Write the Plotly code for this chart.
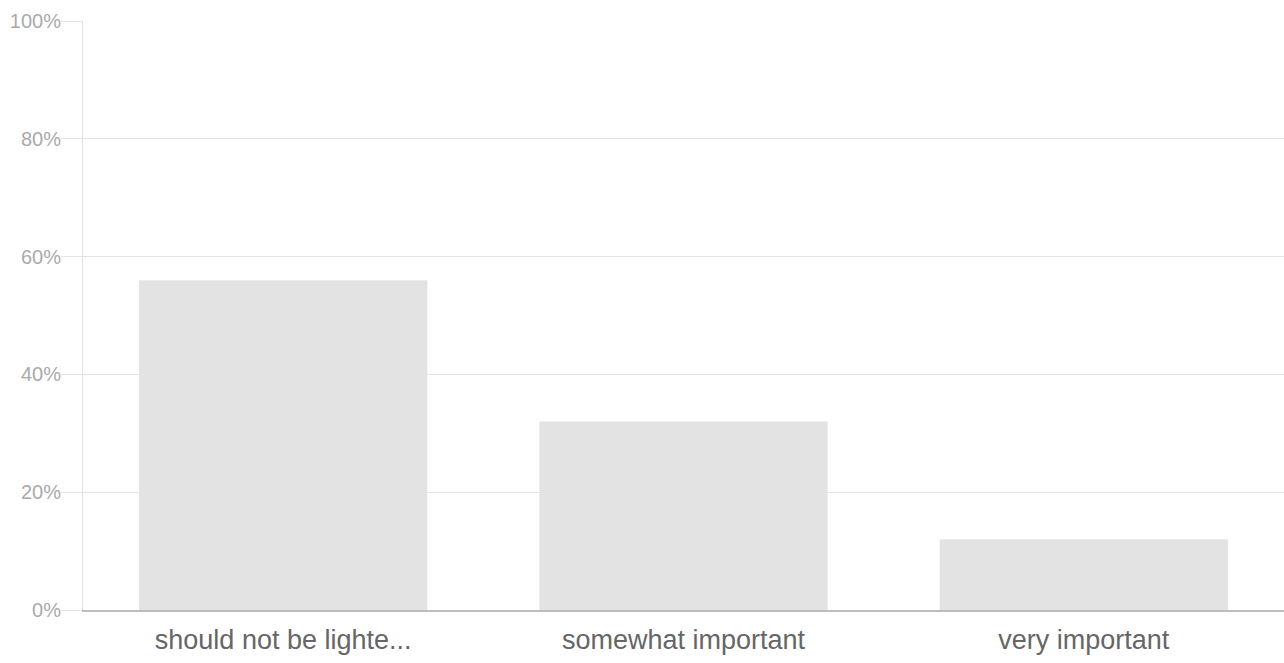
import plotly.graph_objects as go

categories = ["should not be lighte...", "somewhat important", "very important"]
values = [0.56, 0.32, 0.12]
y_ticks = [0, 0.2, 0.4, 0.6, 0.8, 1.0]
y_tick_labels = ["0%", "20%", "40%", "60%", "80%", "100%"]

fig = go.Figure(go.Bar(
    x=categories, y=values,
    marker=dict(color="#e3e3e3", line=dict(width=0)),
    width=0.72,
    hoverinfo="skip",
))

fig.update_layout(
    width=1284, height=663,
    margin=dict(l=83, r=0, t=21, b=53),
    paper_bgcolor="white", plot_bgcolor="white",
    showlegend=False,
    font=dict(family="Liberation Sans, Arial, sans-serif"),
)
fig.update_yaxes(
    range=[0, 1], tickvals=y_ticks, ticktext=y_tick_labels,
    showgrid=True, gridcolor="#e4e4e4", gridwidth=1,
    ticks="outside", ticklen=21, tickcolor="#e4e4e4", tickwidth=1,
    ticklabelstandoff=-4,
    showline=True, linecolor="#e0e0e0", linewidth=1,
    tickfont=dict(size=20, color="#aaaaaa"),
    zeroline=False,
)
fig.update_xaxes(
    showline=True, linecolor="#bdbdbd", linewidth=2,
    ticks="", tickfont=dict(size=27, color="#666666"),
    ticklabelstandoff=5,
    showgrid=False,
)

fig.write_html(
    "out.html",
    config={"displayModeBar": False},
    post_script="document.body.style.margin='0';document.body.style.overflow='hidden';",
)
